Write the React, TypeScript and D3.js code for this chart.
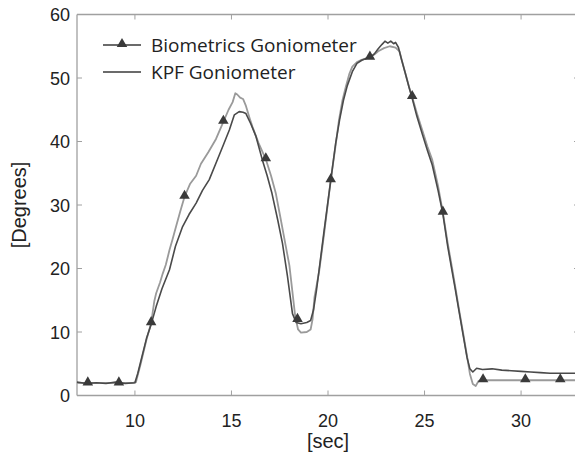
import React from "react";
import * as d3 from "d3";

// Biometrics Goniometer (light grey line with triangle markers)
const bioTime = [7.0, 9.9, 10.05, 10.3, 10.6, 10.84, 11.0, 11.1, 11.3, 11.44, 11.6, 11.79, 11.95, 12.13, 12.35, 12.57, 12.85, 13.17, 13.42, 13.8, 14.2, 14.58, 14.85, 15.06, 15.2, 15.3, 15.45, 15.6, 15.75, 15.95, 16.09, 16.4, 16.78, 17.05, 17.3, 17.55, 17.82, 18.0, 18.15, 18.3, 18.45, 18.6, 18.9, 19.1, 19.2, 19.3, 19.54, 19.8, 20.14, 20.4, 20.57, 20.75, 20.92, 21.1, 21.26, 21.5, 21.69, 21.9, 22.17, 22.4, 22.6, 22.9, 23.2, 23.5, 23.7, 23.85, 24.02, 24.2, 24.36, 24.6, 24.88, 25.15, 25.4, 25.7, 25.95, 26.2, 26.43, 26.6, 26.79, 27.0, 27.2, 27.35, 27.5, 27.65, 27.8, 28.0, 33.0];
const bioValue = [2.0, 2.0, 2.1, 5.0, 8.8, 11.4, 14.8, 16.1, 17.8, 19.2, 20.6, 22.9, 24.6, 26.6, 29.0, 31.3, 33.3, 34.6, 36.5, 38.3, 40.4, 43.1, 45.0, 46.2, 47.6, 47.4, 46.9, 46.7, 45.6, 43.6, 42.3, 39.8, 37.2, 34.6, 31.8, 27.8, 23.4, 20.5, 16.5, 12.5, 10.4, 9.9, 10.0, 10.4, 12.0, 15.5, 19.5, 25.5, 33.9, 39.5, 43.4, 46.5, 48.6, 50.6, 51.8, 52.5, 52.8, 53.0, 53.3, 53.7, 54.2, 54.7, 55.0, 54.8, 54.2, 52.5, 50.6, 48.6, 47.0, 44.5, 41.8, 39.2, 37.1, 33.0, 28.8, 24.0, 20.0, 17.0, 13.5, 9.8, 6.2, 3.4, 1.8, 1.5, 2.3, 2.4, 2.4];

// KPF Goniometer (dark line)
const kpfTime = [7.0, 7.5, 8.0, 8.5, 9.0, 9.5, 10.0, 10.15, 10.32, 10.6, 10.84, 11.1, 11.4, 11.79, 12.1, 12.47, 12.8, 13.17, 13.5, 13.85, 14.28, 14.6, 14.89, 15.15, 15.4, 15.6, 15.75, 16.0, 16.27, 16.6, 16.85, 17.1, 17.4, 17.64, 17.9, 18.16, 18.35, 18.6, 18.9, 19.1, 19.25, 19.4, 19.54, 19.8, 20.14, 20.4, 20.6, 20.8, 21.0, 21.26, 21.5, 21.75, 22.0, 22.17, 22.4, 22.6, 22.8, 22.95, 23.1, 23.25, 23.4, 23.5, 23.65, 23.8, 24.0, 24.2, 24.36, 24.6, 24.88, 25.15, 25.4, 25.7, 25.95, 26.2, 26.43, 26.6, 26.79, 27.0, 27.2, 27.35, 27.5, 27.7, 28.0, 28.5, 29.0, 29.5, 30.0, 30.5, 31.0, 31.5, 32.0, 33.0];
const kpfValue = [2.1, 1.9, 2.0, 1.9, 2.1, 1.9, 2.0, 3.5, 5.6, 9.0, 11.2, 14.0, 16.8, 19.8, 23.5, 26.6, 28.5, 30.3, 32.3, 34.0, 37.2, 39.6, 41.8, 44.2, 44.7, 44.6, 44.4, 42.8, 40.8, 37.1, 34.6, 31.8, 27.6, 24.0, 18.8, 12.9, 11.5, 11.3, 11.5, 11.8, 13.5, 16.5, 19.8, 26.0, 33.8, 39.8, 43.4, 46.5, 48.8, 51.0, 52.3, 52.8, 53.1, 53.2, 53.8, 54.6, 55.3, 55.8, 55.5, 55.8, 55.4, 55.6, 54.8, 53.0, 50.8, 48.5, 46.8, 44.0, 41.2, 38.6, 36.3, 32.3, 28.6, 23.5, 19.5, 16.6, 13.2, 9.5, 6.0, 4.2, 3.7, 4.3, 4.1, 4.2, 4.0, 3.9, 3.8, 3.7, 3.6, 3.5, 3.5, 3.5];

// Triangle markers on the Biometrics series
const markerTime = [7.56, 9.17, 10.84, 12.57, 14.58, 16.78, 18.42, 20.14, 22.17, 24.36, 25.95, 28.03, 30.22, 32.03];
const markerValue = [1.9, 1.9, 11.4, 31.3, 43.1, 37.2, 11.9, 33.9, 53.2, 47.0, 28.8, 2.4, 2.4, 2.4];

const xTicks = [10, 15, 20, 25, 30];
const yTicks = [0, 10, 20, 30, 40, 50, 60];
const legendLabels = ["Biometrics Goniometer", "KPF Goniometer"];
const xLabel = "[sec]";
const yLabel = "[Degrees]";

export default function App() {
  const W = 575, H = 452;
  const left = 77, right = 579, top = 14.5, bottom = 395.5;
  const x = d3.scaleLinear().domain([7, 33]).range([left, right]);
  const y = d3.scaleLinear().domain([0, 60]).range([bottom, top]);

  const line = d3
    .line<[number, number]>()
    .x((d) => x(d[0]))
    .y((d) => y(d[1]));

  const bio = bioTime.map((t, i) => [t, bioValue[i]] as [number, number]);
  const kpf = kpfTime.map((t, i) => [t, kpfValue[i]] as [number, number]);
  const tri = d3.symbol(d3.symbolTriangle, 48)() as string;

  const axisColor = "#a0a0a0";
  const tickFont = "'Liberation Sans', Arial, sans-serif";
  const legendFont = "'Open Sans', sans-serif";

  return (
    <svg
      width={W}
      height={H}
      style={{ position: "absolute", left: 0, top: 0, background: "#fff" }}
    >
      <rect x={0} y={0} width={W} height={H} fill="#fff" />
      {/* frame */}
      <line x1={left} x2={right} y1={top} y2={top} stroke={axisColor} strokeWidth={1.3} />
      <line x1={left} x2={right} y1={bottom} y2={bottom} stroke={axisColor} strokeWidth={1.3} />
      <line x1={left} x2={left} y1={top} y2={bottom} stroke={axisColor} strokeWidth={1.3} />
      <line x1={right} x2={right} y1={top} y2={bottom} stroke={axisColor} strokeWidth={1.3} />
      {xTicks.map((t) => (
        <g key={"x" + t}>
          <line x1={x(t)} x2={x(t)} y1={bottom} y2={bottom - 5} stroke={axisColor} />
          <line x1={x(t)} x2={x(t)} y1={top} y2={top + 5} stroke={axisColor} />
          <text
            x={x(t)}
            y={bottom + 31}
            textAnchor="middle"
            fontFamily={tickFont}
            fontSize={18}
            fill="#222"
          >
            {t}
          </text>
        </g>
      ))}
      {yTicks.map((v) => (
        <g key={"y" + v}>
          <line x1={left} x2={left + 5} y1={y(v)} y2={y(v)} stroke={axisColor} />
          <line x1={right} x2={right - 5} y1={y(v)} y2={y(v)} stroke={axisColor} />
          <text
            x={left - 7}
            y={y(v) + 6.5}
            textAnchor="end"
            fontFamily={tickFont}
            fontSize={18}
            fill="#222"
          >
            {v}
          </text>
        </g>
      ))}
      <text
        x={x(20)}
        y={448}
        textAnchor="middle"
        fontFamily={tickFont}
        fontSize={20}
        fill="#222"
      >
        {xLabel}
      </text>
      <text
        transform={`translate(26, ${y(30)}) rotate(-90)`}
        textAnchor="middle"
        fontFamily={tickFont}
        fontSize={20}
        fill="#222"
      >
        {yLabel}
      </text>

      {/* series */}
      <path d={line(bio) || ""} fill="none" stroke="#9a9a9a" strokeWidth={1.8} strokeLinejoin="round" />
      <path d={line(kpf) || ""} fill="none" stroke="#4a4a4a" strokeWidth={1.6} strokeLinejoin="round" />
      {markerTime.map((t, i) => (
        <path
          key={"m" + i}
          d={tri}
          transform={`translate(${x(t)}, ${y(markerValue[i]) - 1})`}
          fill="#3a3a3a"
        />
      ))}

      {/* legend */}
      <g>
        <line x1={103} x2={141} y1={45} y2={45} stroke="#3a3a3a" strokeWidth={1.6} />
        <path d={tri} transform="translate(122, 44)" fill="#3a3a3a" />
        <text x={151} y={51.5} fontFamily={legendFont} fontSize={19} fill="#222">
          {legendLabels[0]}
        </text>
        <line x1={103} x2={141} y1={72} y2={72} stroke="#3a3a3a" strokeWidth={1.6} />
        <text x={151} y={78.5} fontFamily={legendFont} fontSize={19} fill="#222">
          {legendLabels[1]}
        </text>
      </g>
    </svg>
  );
}
